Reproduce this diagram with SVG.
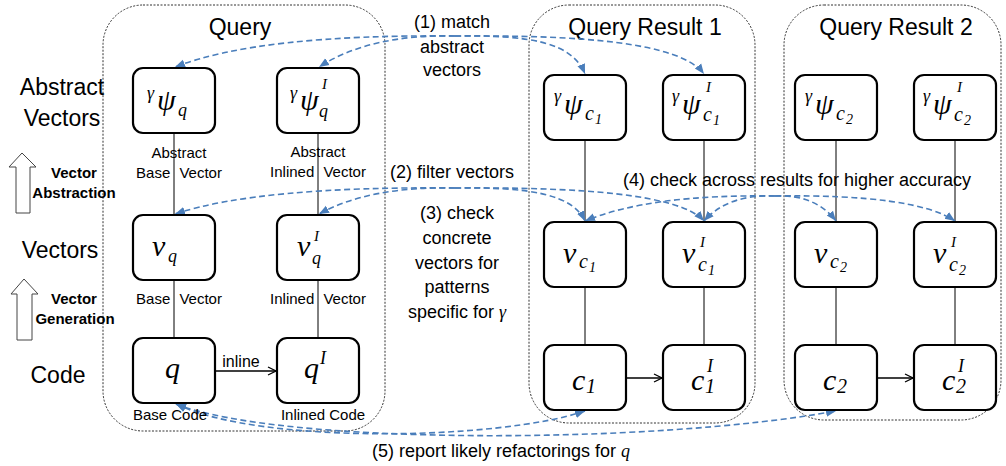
<svg xmlns="http://www.w3.org/2000/svg" width="1006" height="466" viewBox="0 0 1006 466">
  <style>
    .t { font-family: "Liberation Sans", Arial, sans-serif; fill: #000; }
    .big { font-size: 23px; }
    .mid { font-size: 18px; }
    .sm { font-size: 15px; }
    .b { font-size: 15px; font-weight: bold; }
    .m { font-family: "Liberation Serif", "DejaVu Serif", serif; font-style: italic; fill: #000; }
    .u { font-family: "Liberation Serif", "DejaVu Serif", serif; fill: #000; }
    .grp { fill: none; stroke: #333; stroke-width: 1; stroke-dasharray: 2 1.5; }
    .box { fill: #fff; stroke: #000; stroke-width: 2.2; }
    .link { fill: none; stroke: #000; stroke-width: 1; }
    .flow { fill: none; stroke: #4a7ebb; stroke-width: 1.6; stroke-dasharray: 6 3.5; marker-end: url(#ah); }
    .both { marker-start: url(#ah); }
    .inl { fill: none; stroke: #000; stroke-width: 1.3; marker-end: url(#oh); }
    .blk { fill: #fff; stroke: #444; stroke-width: 1; }
  </style>
  <defs>
    <marker id="ah" viewBox="0 0 10 10" refX="10" refY="5" markerWidth="10" markerHeight="10" markerUnits="userSpaceOnUse" orient="auto-start-reverse">
      <path d="M0,1 L10,5 L0,9 z" fill="#4a7ebb"/>
    </marker>
    <marker id="oh" viewBox="0 0 10 10" refX="9" refY="5" markerWidth="10" markerHeight="10" markerUnits="userSpaceOnUse" orient="auto">
      <path d="M1,1 L9,5 L1,9" fill="none" stroke="#000" stroke-width="1.3"/>
    </marker>
  </defs>

  <rect width="1006" height="466" fill="#fff"/>

  <!-- dotted groups -->
  <g id="group-query">
    <rect class="grp" x="103" y="5" width="282" height="426" rx="40"/>
    <text class="t big" x="240" y="35" text-anchor="middle">Query</text>
  </g>
  <g id="group-result1">
    <rect class="grp" x="529" y="5" width="226" height="418" rx="40"/>
    <text class="t big" x="645" y="35" text-anchor="middle">Query Result 1</text>
  </g>
  <g id="group-result2">
    <rect class="grp" x="784" y="5" width="217" height="415" rx="40"/>
    <text class="t big" x="896" y="35" text-anchor="middle">Query Result 2</text>
  </g>

  <!-- row labels and stage arrows -->
  <g id="row-labels">
    <text class="t big" x="62" y="95" text-anchor="middle">Abstract</text>
    <text class="t big" x="62" y="126" text-anchor="middle">Vectors</text>
    <text class="t big" x="60" y="258" text-anchor="middle">Vectors</text>
    <text class="t big" x="58" y="383" text-anchor="middle">Code</text>
    <polygon class="blk" points="22,153 36,167 30,167 30,213 16,213 16,167 9,167"/>
    <text class="t b" x="74" y="178" text-anchor="middle">Vector</text>
    <text class="t b" x="74" y="198" text-anchor="middle">Abstraction</text>
    <polygon class="blk" points="24,279 38,294 32,294 32,340 17,340 17,294 11,294"/>
    <text class="t b" x="74" y="304" text-anchor="middle">Vector</text>
    <text class="t b" x="75" y="324" text-anchor="middle">Generation</text>
  </g>

  <!-- plain connectors between levels -->
  <g id="connectors">
    <path class="link" d="M174,133 V215 M174,280 V338 M318,133 V215 M318,280 V338"/>
    <path class="link" d="M585,140 V222 M585,287 V345 M704,140 V222 M704,287 V345"/>
    <path class="link" d="M836,140 V222 M836,287 V345 M955,140 V222 M955,287 V345"/>
    <path class="inl" d="M215,371 L276,371"/>
    <path class="inl" d="M626,378 L662,378"/>
    <path class="inl" d="M877,378 L913,378"/>

    <!-- (1) match abstract vectors -->
    <path class="flow" d="M455,36 Q260,34 175,67"/>
    <path class="flow" d="M455,36 Q370,34 319,67"/>
    <path class="flow" d="M455,36 C530,35 572,42 585,74"/>
    <path class="flow" d="M455,36 C580,35 680,42 704,74"/>
    <!-- (2) filter vectors -->
    <path class="flow" d="M455,188 Q260,186 175,214"/>
    <path class="flow" d="M455,188 Q370,186 319,214"/>
    <path class="flow" d="M455,188 C530,187 572,194 585,221"/>
    <path class="flow" d="M455,188 C580,187 680,194 704,221"/>
    <!-- (4) check across results -->
    <path class="flow" d="M775,196 Q650,194 585,221"/>
    <path class="flow" d="M775,196 Q728,194 704,221"/>
    <path class="flow" d="M775,196 Q815,194 836,221"/>
    <path class="flow" d="M775,196 Q915,194 955,221"/>
    <!-- (5) report refactorings -->
    <path class="flow both" d="M176,404 C260,445 500,440 585,411"/>
    <path class="flow both" d="M176,404 C280,445 650,445 836,411"/>
  </g>

  <!-- connector labels -->
  <g id="connector-labels">
    <text class="t mid" x="452" y="28" text-anchor="middle">(1) match</text>
    <text class="t mid" x="452" y="53" text-anchor="middle">abstract</text>
    <text class="t mid" x="452" y="76" text-anchor="middle">vectors</text>
    <text class="t mid" x="390" y="178">(2) filter vectors</text>
    <text class="t mid" x="457" y="219" text-anchor="middle">(3) check</text>
    <text class="t mid" x="457" y="244" text-anchor="middle">concrete</text>
    <text class="t mid" x="457" y="269" text-anchor="middle">vectors for</text>
    <text class="t mid" x="457" y="293" text-anchor="middle">patterns</text>
    <text class="t mid" x="457" y="318" text-anchor="middle">specific for <tspan class="m">γ</tspan></text>
    <text class="t mid" x="797" y="186" text-anchor="middle">(4) check across results for higher accuracy</text>
    <text class="t mid" x="372" y="457">(5) report likely refactorings for <tspan class="m">q</tspan></text>
    <text class="t sm" x="179" y="158" text-anchor="middle">Abstract</text>
    <text class="t sm" x="179" y="178" text-anchor="middle" word-spacing="5">Base Vector</text>
    <text class="t sm" x="318" y="157" text-anchor="middle">Abstract</text>
    <text class="t sm" x="318" y="177" text-anchor="middle" word-spacing="5">Inlined Vector</text>
    <text class="t sm" x="179" y="304" text-anchor="middle" word-spacing="5">Base Vector</text>
    <text class="t sm" x="318" y="304" text-anchor="middle" word-spacing="5">Inlined Vector</text>
    <text class="t sm" x="170" y="420" text-anchor="middle">Base Code</text>
    <text class="t sm" x="323" y="420" text-anchor="middle">Inlined Code</text>
    <text class="t" font-size="16" x="241" y="367" text-anchor="middle">inline</text>
  </g>

  <!-- query nodes -->
  <g id="psi-q">
    <rect class="box" x="133" y="68" width="82" height="65" rx="10"/>
    <text class="m"><tspan x="147" y="99" font-size="18">γ</tspan><tspan x="157" y="110" font-size="30">ψ</tspan><tspan x="178" y="116" font-size="18">q</tspan></text>
  </g>
  <g id="psi-q-inlined">
    <rect class="box" x="277" y="68" width="82" height="65" rx="10"/>
    <text class="m"><tspan x="290" y="99" font-size="18">γ</tspan><tspan x="300" y="110" font-size="30">ψ</tspan><tspan x="322" y="89" font-size="15">I</tspan><tspan x="319" y="117" font-size="18">q</tspan></text>
  </g>
  <g id="v-q">
    <rect class="box" x="133" y="215" width="82" height="65" rx="10"/>
    <text class="m"><tspan x="152" y="256" font-size="30">v</tspan><tspan x="168" y="262" font-size="18">q</tspan></text>
  </g>
  <g id="v-q-inlined">
    <rect class="box" x="277" y="215" width="82" height="65" rx="10"/>
    <text class="m"><tspan x="297" y="256" font-size="30">v</tspan><tspan x="314" y="241" font-size="15">I</tspan><tspan x="312" y="264" font-size="18">q</tspan></text>
  </g>
  <g id="code-q">
    <rect class="box" x="133" y="338" width="82" height="65" rx="10"/>
    <text class="m" x="165" y="378" font-size="30">q</text>
  </g>
  <g id="code-q-inlined">
    <rect class="box" x="277" y="338" width="82" height="65" rx="10"/>
    <text class="m"><tspan x="304" y="378" font-size="30">q</tspan><tspan x="320" y="364" font-size="18">I</tspan></text>
  </g>

  <!-- result 1 nodes -->
  <g id="psi-c1">
    <rect class="box" x="544" y="75" width="82" height="65" rx="10"/>
    <text class="m"><tspan x="554" y="102" font-size="18">γ</tspan><tspan x="564" y="114" font-size="30">ψ</tspan><tspan x="585" y="120" font-size="20">c</tspan><tspan class="u" x="595" y="124" font-size="14">1</tspan></text>
  </g>
  <g id="psi-c1-inlined">
    <rect class="box" x="663" y="75" width="82" height="65" rx="10"/>
    <text class="m"><tspan x="672" y="102" font-size="18">γ</tspan><tspan x="682" y="114" font-size="30">ψ</tspan><tspan x="706" y="92" font-size="15">I</tspan><tspan x="703" y="121" font-size="20">c</tspan><tspan class="u" x="713" y="125" font-size="14">1</tspan></text>
  </g>
  <g id="v-c1">
    <rect class="box" x="544" y="222" width="82" height="65" rx="10"/>
    <text class="m"><tspan x="563" y="263" font-size="30">v</tspan><tspan x="579" y="268" font-size="20">c</tspan><tspan class="u" x="589" y="272" font-size="14">1</tspan></text>
  </g>
  <g id="v-c1-inlined">
    <rect class="box" x="663" y="222" width="82" height="65" rx="10"/>
    <text class="m"><tspan x="682" y="263" font-size="30">v</tspan><tspan x="700" y="247" font-size="15">I</tspan><tspan x="698" y="271" font-size="20">c</tspan><tspan class="u" x="708" y="275" font-size="14">1</tspan></text>
  </g>
  <g id="code-c1">
    <rect class="box" x="544" y="345" width="82" height="65" rx="10"/>
    <text class="m"><tspan x="572" y="390" font-size="30">c</tspan><tspan class="u" x="586" y="393" font-size="20">1</tspan></text>
  </g>
  <g id="code-c1-inlined">
    <rect class="box" x="663" y="345" width="82" height="65" rx="10"/>
    <text class="m"><tspan x="691" y="390" font-size="30">c</tspan><tspan x="707" y="372" font-size="18">I</tspan><tspan class="u" x="705" y="393" font-size="20">1</tspan></text>
  </g>

  <!-- result 2 nodes -->
  <g id="psi-c2">
    <rect class="box" x="795" y="75" width="82" height="65" rx="10"/>
    <text class="m"><tspan x="805" y="102" font-size="18">γ</tspan><tspan x="815" y="114" font-size="30">ψ</tspan><tspan x="836" y="120" font-size="20">c</tspan><tspan class="u" x="846" y="124" font-size="14">2</tspan></text>
  </g>
  <g id="psi-c2-inlined">
    <rect class="box" x="914" y="75" width="82" height="65" rx="10"/>
    <text class="m"><tspan x="923" y="102" font-size="18">γ</tspan><tspan x="933" y="114" font-size="30">ψ</tspan><tspan x="957" y="92" font-size="15">I</tspan><tspan x="954" y="121" font-size="20">c</tspan><tspan class="u" x="964" y="125" font-size="14">2</tspan></text>
  </g>
  <g id="v-c2">
    <rect class="box" x="795" y="222" width="82" height="65" rx="10"/>
    <text class="m"><tspan x="814" y="263" font-size="30">v</tspan><tspan x="830" y="268" font-size="20">c</tspan><tspan class="u" x="840" y="272" font-size="14">2</tspan></text>
  </g>
  <g id="v-c2-inlined">
    <rect class="box" x="914" y="222" width="82" height="65" rx="10"/>
    <text class="m"><tspan x="933" y="263" font-size="30">v</tspan><tspan x="951" y="247" font-size="15">I</tspan><tspan x="949" y="271" font-size="20">c</tspan><tspan class="u" x="959" y="275" font-size="14">2</tspan></text>
  </g>
  <g id="code-c2">
    <rect class="box" x="795" y="345" width="82" height="65" rx="10"/>
    <text class="m"><tspan x="823" y="390" font-size="30">c</tspan><tspan class="u" x="837" y="393" font-size="20">2</tspan></text>
  </g>
  <g id="code-c2-inlined">
    <rect class="box" x="914" y="345" width="82" height="65" rx="10"/>
    <text class="m"><tspan x="942" y="390" font-size="30">c</tspan><tspan x="958" y="372" font-size="18">I</tspan><tspan class="u" x="956" y="393" font-size="20">2</tspan></text>
  </g>
</svg>
